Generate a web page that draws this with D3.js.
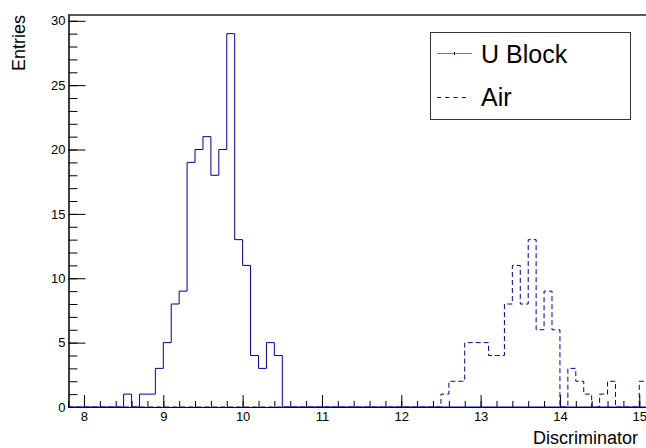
<!DOCTYPE html>
<html>
<head>
<meta charset="utf-8">
<script src="https://cdn.jsdelivr.net/npm/d3@7/dist/d3.min.js"></script>
<style>
  html, body { margin: 0; padding: 0; background: #fff; }
  svg { display: block; }
  text { font-family: "Liberation Sans", Arial, Helvetica, sans-serif; fill: #000; }
</style>
</head>
<body>
<svg id="chart" width="646" height="448"></svg>
<script>
// ---- data ----
const binLow = 7.8;          // low edge of first bin
const binWidth = 0.1;
// U Block counts per 0.1 bin, from 7.8 to 15.1
const uBlockCounts = [
  0,0,0,0,0,0,0,               // 7.8 - 8.4
  1,0,1,1,3,5,8,9,19,20,21,18,20,29,13,11,4,3,5,4, // 8.5 - 10.4
  0,0,0,0,0,0,0,0,0,0,0,0,0,0,0,0,0,0,0,0,0,0,0,   // 10.5 - 12.7
  0,0,0,0,0,0,0,0,0,0,0,0,0,0,0,0,0,0,0,0,0,0,0    // 12.8 - 15.0
];
// Air counts per 0.1 bin, from 7.8 to 15.1
const airCounts = [
  0,0,0,0,0,0,0,0,0,0,0,0,0,0,0,0,0,0,0,0,0,0,0,0, // 7.8 - 10.1
  0,0,0,0,0,0,0,0,0,0,0,0,0,0,0,0,0,0,0,0,0,0,0,   // 10.2 - 12.4
  1,2,2,5,5,5,4,4,8,11,8,13,6,9,6,0,3,2,1,0,1,2,0,0,0,2 // 12.5 - 15.0
];
const seriesNames = ["U Block", "Air"];
const xMajorTicks = [8, 9, 10, 11, 12, 13, 14, 15];
const yMajorTicks = [0, 5, 10, 15, 20, 25, 30];
const xTitle = "Discriminator";
const yTitle = "Entries";

// ---- layout ----
const svg = d3.select("#chart");
const plotLeft = 68.5, plotBottom = 407, plotTop = 15;
const x = d3.scaleLinear().domain([7.8, 15.1]).range([68.1, 647.2]);
const y = d3.scaleLinear().domain([0, 30.45]).range([plotBottom, plotTop]);
const blue = "#000099";
const font = '"Liberation Sans", Arial, Helvetica, sans-serif';

function histPoints(counts) {
  const pts = [];
  counts.forEach((c, i) => {
    const lo = binLow + i * binWidth, hi = binLow + (i + 1) * binWidth;
    pts.push([lo, c], [hi, c]);
  });
  return pts;
}
const line = d3.line().x(d => x(d[0])).y(d => y(d[1]));

// frame top
svg.append("line").attr("x1", 68).attr("x2", 646).attr("y1", 15).attr("y2", 15)
  .attr("stroke", "#5a5a5a").attr("stroke-width", 2);

// axes
const gx = svg.append("g").attr("transform", `translate(0,${plotBottom})`);
gx.call(d3.axisBottom(x).tickValues(d3.range(7.8, 15.05, 0.2)).tickSize(-6).tickFormat("").tickSizeOuter(0));
gx.append("g").call(d3.axisBottom(x).tickValues(xMajorTicks).tickSize(-12).tickPadding(5).tickSizeOuter(0)
  .tickFormat(d3.format("d")));
gx.selectAll("path.domain").attr("stroke", "#000");
gx.selectAll("line").attr("stroke", "#000");
gx.selectAll("text").style("font-family", font).style("font-size", "13px").attr("fill", "#000");

const gy = svg.append("g").attr("transform", `translate(${plotLeft},0)`);
gy.call(d3.axisLeft(y).tickValues(d3.range(0, 30.5, 1)).tickSize(-9).tickFormat("").tickSizeOuter(0));
gy.append("g").call(d3.axisLeft(y).tickValues(yMajorTicks).tickSize(-17).tickPadding(3).tickSizeOuter(0)
  .tickFormat(d3.format("d")));
gy.selectAll("path.domain").attr("stroke", "#000");
gy.selectAll("line").attr("stroke", "#000");
gy.selectAll("text").style("font-family", font).style("font-size", "13px").attr("fill", "#000");

// histograms
svg.append("path").datum(histPoints(uBlockCounts)).attr("d", line)
  .attr("fill", "none").attr("stroke", blue).attr("stroke-width", 1);
svg.append("path").datum(histPoints(airCounts)).attr("d", line)
  .attr("fill", "none").attr("stroke", blue).attr("stroke-width", 1)
  .attr("stroke-dasharray", "5,3");

// axis titles
svg.append("text").attr("x", 533).attr("y", 443.5).style("font-size", "18px").text(xTitle);
svg.append("text").attr("transform", "translate(25,15) rotate(-90)")
  .attr("text-anchor", "end").style("font-size", "18px").text(yTitle);

// legend
const lg = svg.append("g");
lg.append("rect").attr("x", 430.5).attr("y", 32.5).attr("width", 200).attr("height", 87)
  .attr("fill", "#fff").attr("stroke", "#333").attr("stroke-width", 1);
lg.append("line").attr("x1", 437).attr("x2", 472).attr("y1", 53.5).attr("y2", 53.5)
  .attr("stroke", "#7070d8").attr("stroke-width", 1);
lg.append("line").attr("x1", 454.5).attr("x2", 454.5).attr("y1", 52).attr("y2", 55)
  .attr("stroke", "#000").attr("stroke-width", 1);
lg.append("line").attr("x1", 437).attr("x2", 468).attr("y1", 97.5).attr("y2", 97.5)
  .attr("stroke", blue).attr("stroke-width", 1).attr("stroke-dasharray", "4,4.3");
lg.append("text").attr("x", 481).attr("y", 63).style("font-size", "25px").text(seriesNames[0]);
lg.append("text").attr("x", 481).attr("y", 106).style("font-size", "25px").text(seriesNames[1]);
</script>
</body>
</html>
